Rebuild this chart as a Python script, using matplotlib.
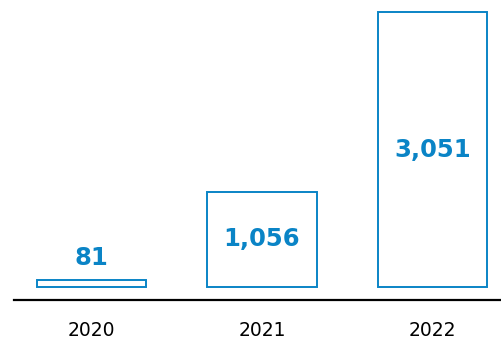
import matplotlib.pyplot as plt

# values from the chart
years = ['2020', '2021', '2022']
counts = [81, 1056, 3051]

blue = '#0a84c6'

fig = plt.figure(figsize=(5.02, 3.42), dpi=100)
ax = fig.add_axes([14 / 502, 42 / 342, 488 / 502, 288 / 342])

x = range(len(years))
bars = ax.bar(x, counts, width=0.64, facecolor='white', edgecolor=blue, linewidth=1.4)
for b in bars:
    b.set_clip_on(False)

# labels: inside the bar when it is tall enough, otherwise above it
for xi, v in zip(x, counts):
    txt = f'{v:,}'
    if v > 500:
        ax.text(xi, v / 2, txt, ha='center', va='center', color=blue,
                fontsize=17.5, fontweight='bold')
    else:
        ax.annotate(txt, (xi, v), xytext=(0, 7), textcoords='offset points',
                    ha='center', va='bottom', color=blue,
                    fontsize=17.5, fontweight='bold')

ax.set_xlim(-0.4545, 2.408)
ax.set_ylim(-144, 3051)
ax.set_xticks(list(x))
ax.set_xticklabels(years, fontsize=13.5)
ax.tick_params(axis='x', length=0, pad=15)
ax.set_yticks([])

for side in ['top', 'right', 'left']:
    ax.spines[side].set_visible(False)
ax.spines['bottom'].set_linewidth(1.6)
ax.spines['bottom'].set_color('black')

fig.savefig('out.png', dpi=100)
